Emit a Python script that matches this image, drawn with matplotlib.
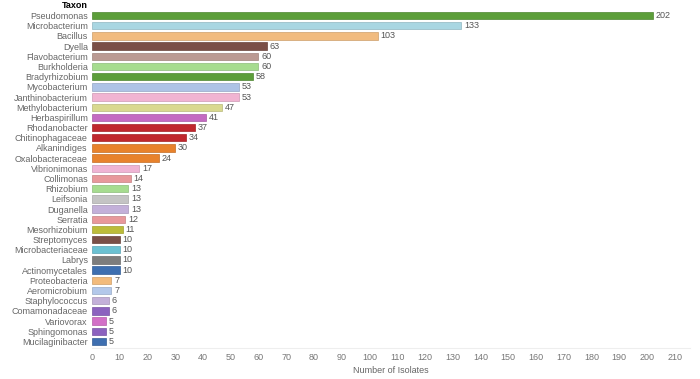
import matplotlib
matplotlib.use("Agg")
import matplotlib.pyplot as plt
import matplotlib.colors as mcolors

taxa = ["Pseudomonas", "Microbacterium", "Bacillus", "Dyella", "Flavobacterium",
        "Burkholderia", "Bradyrhizobium", "Mycobacterium", "Janthinobacterium",
        "Methylobacterium", "Herbaspirillum", "Rhodanobacter", "Chitinophagaceae",
        "Alkanindiges", "Oxalobacteraceae", "Vibrionimonas", "Collimonas", "Rhizobium",
        "Leifsonia", "Duganella", "Serratia", "Mesorhizobium", "Streptomyces",
        "Microbacteriaceae", "Labrys", "Actinomycetales", "Proteobacteria",
        "Aeromicrobium", "Staphylococcus", "Comamonadaceae", "Variovorax",
        "Sphingomonas", "Mucilaginibacter"]
isolates = [202, 133, 103, 63, 60, 60, 58, 53, 53, 47, 41, 37, 34, 30, 24, 17, 14,
            13, 13, 13, 12, 11, 10, 10, 10, 10, 7, 7, 6, 6, 5, 5, 5]
colors = ["#5c9e3a", "#a9d6e2", "#f1bb7f", "#7a4f47", "#bb9a93", "#a6dc8f",
          "#5c9e3a", "#aec3e6", "#f1b4d2", "#d9d98f", "#c46ac2", "#c0272d", "#c0272d",
          "#e8822c", "#e8822c", "#efb4d4", "#e8989b", "#a6dc8f", "#c4c4c4", "#c3b0d9",
          "#e8989b", "#bcbc3a", "#7a4f47", "#6bc1d2", "#7d7d7d", "#3e6fb0", "#f2bb7c",
          "#b3c8ea", "#c3b0d9", "#8c62bf", "#d26fc7", "#8c62bf", "#3e6fb0"]

plt.rcParams['font.family'] = ['Liberation Sans', 'DejaVu Sans']

fig = plt.figure(figsize=(7, 3.79), dpi=100)
ax = fig.add_axes([92/700, 1 - 347.5/379, 598/700, 338/379])

n = len(taxa)
ypos = list(range(n))
edges = [tuple(c * 0.85 for c in mcolors.to_rgb(col)) for col in colors]
bars = ax.barh(ypos, isolates, height=0.72, color=colors, edgecolor=edges, linewidth=0.5)
ax.bar_label(bars, labels=[str(v) for v in isolates], padding=2, fontsize=6.5, color="#555555")

ax.set_ylim(n - 0.4, -0.6)
ax.set_xlim(0, 215.5)
ax.set_yticks(ypos)
ax.set_yticklabels(taxa, fontsize=6.5, color="#666666")
ax.set_xticks(range(0, 211, 10))
ax.tick_params(axis='x', labelsize=6.5, labelcolor="#777777", length=0, pad=4)
ax.tick_params(axis='y', length=0, pad=3)
for s in ["top", "right", "left"]:
    ax.spines[s].set_visible(False)
ax.spines["bottom"].set_color("#eeeeee")
ax.spines["bottom"].set_linewidth(0.8)
ax.set_xlabel("Number of Isolates", fontsize=6.5, color="#666666", labelpad=3)

fig.text(88/700, 1 - 5/379, "Taxon", fontsize=6.5, fontweight="bold", ha="right", va="center")

fig.savefig("out.png", dpi=100)
